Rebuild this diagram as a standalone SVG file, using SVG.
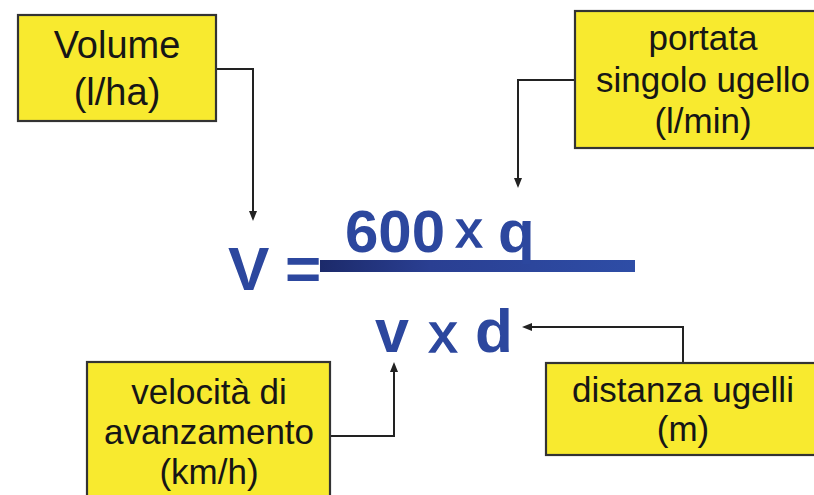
<svg xmlns="http://www.w3.org/2000/svg" width="814" height="495" viewBox="0 0 814 495">
<defs>
<style>
.box{fill:#F8EA2F;stroke:#333;stroke-width:2.2}
.lbl{font-family:"Liberation Sans",Arial,sans-serif;font-size:35px;fill:#161616;text-anchor:middle}
.eq{font-family:"Liberation Sans",Arial,sans-serif;font-weight:bold;fill:#2C479E}
.times{font-family:"Liberation Sans",Arial,sans-serif;font-weight:normal;fill:#2C479E;stroke:#2C479E;stroke-width:1.6}
.conn{fill:none;stroke:#222;stroke-width:2}
.head{fill:#222}
</style>
<linearGradient id="bar" x1="0" y1="0" x2="1" y2="0">
<stop offset="0" stop-color="#1c2a6a"/>
<stop offset="0.35" stop-color="#2a3f92"/>
<stop offset="1" stop-color="#2E4DA6"/>
</linearGradient>
</defs>
<g id="connectors">
<path class="conn" d="M217,69 H253 V212"/>
<path class="head" d="M249,211 L257,211 L253,221 z"/>
<path class="conn" d="M575,80 H518 V180"/>
<path class="head" d="M514,178 L522,178 L518,188 z"/>
<path class="conn" d="M330,436 H394 V370"/>
<path class="head" d="M390,372 L398,372 L394,362 z"/>
<path class="conn" d="M683,363 V327 H530"/>
<path class="head" d="M532,323 L532,331 L522,327 z"/>
</g>
<g id="volume">
<rect class="box" x="18" y="15" width="198" height="106"/>
<text class="lbl" style="font-size:38px" x="117" y="58">Volume</text>
<text class="lbl" style="font-size:38px" x="117" y="105">(l/ha)</text>
</g>
<g id="portata">
<rect class="box" x="575" y="11" width="250" height="137"/>
<text class="lbl" x="703" y="50">portata</text>
<text class="lbl" x="703" y="92">singolo ugello</text>
<text class="lbl" x="703" y="133">(l/min)</text>
</g>
<g id="velocita">
<rect class="box" x="87" y="362" width="243" height="145"/>
<text class="lbl" x="209" y="404">velocità di</text>
<text class="lbl" x="209" y="444">avanzamento</text>
<text class="lbl" x="209" y="484">(km/h)</text>
</g>
<g id="distanza">
<rect class="box" x="546" y="363" width="280" height="92"/>
<text class="lbl" x="683" y="402">distanza ugelli</text>
<text class="lbl" x="683" y="441">(m)</text>
</g>
<g id="formula">
<text class="eq" x="228" y="290" font-size="62">V</text>
<text class="eq" x="285" y="290" font-size="62">=</text>
<rect x="320" y="260" width="315" height="12" fill="url(#bar)"/>
<text class="eq" x="345" y="252" font-size="60">600</text>
<text class="times" x="456" y="247" font-size="52">x</text>
<text class="eq" x="498" y="252" font-size="60">q</text>
<text class="eq" x="375" y="352" font-size="61">v</text>
<text class="times" x="429" y="352" font-size="56">x</text>
<text class="eq" x="475" y="352" font-size="62">d</text>
</g>
</svg>
